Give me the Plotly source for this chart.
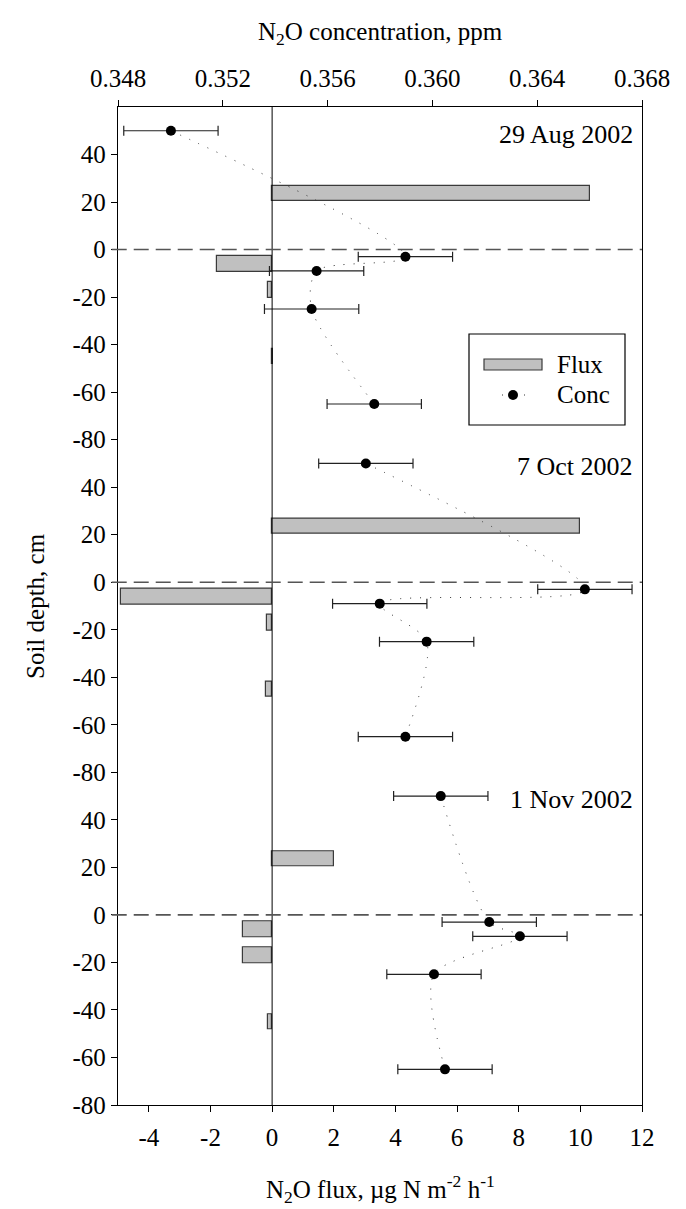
import plotly.graph_objects as go

# ---------------- data ----------------
panel_labels = ["29 Aug 2002", "7 Oct 2002", "1 Nov 2002"]

flux_depth = [23.5, -6, -17, -45]          # cm (bar centres)
flux_aug = [10.3, -1.8, -0.12, 0.03]       # ug N m-2 h-1
flux_oct = [10.0, -4.9, -0.15, -0.2]
flux_nov = [2.0, -0.93, -0.96, -0.12]

conc_depth = [50, -3, -9, -25, -65]        # cm
conc_aug = [0.35002, 0.35897, 0.35558, 0.35539, 0.35778]   # ppm
conc_oct = [0.35746, 0.36582, 0.35799, 0.35978, 0.35897]
conc_nov = [0.36032, 0.36217, 0.36334, 0.36006, 0.36048]
conc_err = [0.0018, 0.0018, 0.0018, 0.0018, 0.0018]

flux_ticks = [-4, -2, 0, 2, 4, 6, 8, 10, 12]
conc_ticks = [0.348, 0.352, 0.356, 0.360, 0.364, 0.368]
depth_ticks = [-80, -60, -40, -20, 0, 20, 40]

# ---------------- layout geometry ----------------
W, H = 686, 1209
L, R, T, B = 118, 44, 107, 104
PW, PH = W - L - R, H - T - B
FONT = "Liberation Serif, Times New Roman, serif"
FS = 25

def px_x(p):
    return (p - L) / PW

def px_y(p):
    return (H - B - p) / PH

def lab(v):
    return str(v) if v >= 0 else "-" + str(abs(v))

fig = go.Figure()

flux_sets = [flux_aug, flux_oct, flux_nov]
conc_sets = [conc_aug, conc_oct, conc_nov]
yaxes = ["y", "y2", "y3"]

for fx, cc, ya in zip(flux_sets, conc_sets, yaxes):
    fig.add_trace(go.Bar(
        x=fx, y=flux_depth, orientation="h", width=6.5,
        marker=dict(color="#c0c0c0", line=dict(color="#3a3a3a", width=1.2)),
        xaxis="x", yaxis=ya, showlegend=False, name="Flux"))
    fig.add_trace(go.Scatter(
        x=cc, y=conc_depth, mode="lines+markers",
        line=dict(color="#333333", width=1, dash="1px,9px", shape="spline", smoothing=0.8),
        marker=dict(color="black", size=10),
        error_x=dict(type="data", array=conc_err, visible=True,
                     color="#222222", thickness=1.2, width=5),
        xaxis="x2", yaxis=ya, showlegend=False, name="Conc"))

axis_font = dict(family=FONT, size=FS, color="black")

yax_common = dict(range=[-80, 60], tickvals=depth_ticks,
                  ticktext=[lab(v) for v in depth_ticks],
                  ticks="outside", ticklen=6,
                  tickcolor="black", showline=True, linecolor="black", linewidth=1.3,
                  mirror=True, showgrid=False, zeroline=False, anchor="x",
                  tickfont=axis_font, ticklabelstandoff=0)

fig.update_layout(
    width=W, height=H,
    margin=dict(l=L, r=R, t=T, b=B),
    paper_bgcolor="white", plot_bgcolor="white",
    font=dict(family=FONT, size=FS, color="black"),
    bargap=0,
    xaxis=dict(range=[-5, 12], domain=[0, 1], anchor="y3", side="bottom",
               tickvals=flux_ticks, ticktext=[lab(v) for v in flux_ticks],
               ticks="outside", ticklen=6, tickcolor="black",
               showline=True, linecolor="black", linewidth=1.3, showgrid=False,
               zeroline=False, tickfont=axis_font, ticklabelstandoff=4),
    xaxis2=dict(range=[0.348, 0.368], overlaying="x", anchor="y", side="top",
                tickvals=conc_ticks, ticktext=[f"{v:.3f}" for v in conc_ticks],
                ticks="outside", ticklen=6, tickcolor="black",
                showline=True, linecolor="black", linewidth=1.3, showgrid=False,
                zeroline=False, tickfont=axis_font, ticklabelstandoff=3),
    xaxis3=dict(range=[-5, 12], overlaying="x", anchor="y", side="bottom",
                tickvals=[-4, 0, 4, 8], ticks="inside", ticklen=6, tickcolor="black",
                showticklabels=False, showline=True, linecolor="black", linewidth=1.3,
                showgrid=False, zeroline=False),
    xaxis4=dict(range=[-5, 12], overlaying="x", anchor="y2", side="bottom",
                ticks="", showticklabels=False, showline=True, linecolor="black",
                linewidth=1.3, showgrid=False, zeroline=False),
    xaxis5=dict(range=[0.348, 0.368], overlaying="x", anchor="y3", side="top",
                tickvals=[0.350, 0.355, 0.360, 0.365], ticks="inside", ticklen=2,
                tickcolor="#666666", showticklabels=False, showline=False,
                showgrid=False, zeroline=False),
    yaxis=dict(domain=[2/3, 1], **yax_common),
    yaxis2=dict(domain=[1/3, 2/3], **yax_common),
    yaxis3=dict(domain=[0, 1/3], **yax_common),
)

shapes = []
# vertical zero-flux line through all panels
shapes.append(dict(type="line", xref="x", yref="paper", x0=0, x1=0, y0=0, y1=1,
                   line=dict(color="black", width=1)))
# dashed soil-surface lines
for ya in yaxes:
    shapes.append(dict(type="line", xref="paper", yref=ya, x0=-0.012, x1=1, y0=0, y1=0,
                       line=dict(color="#555555", width=1.6, dash="15px,7px")))

# custom legend (top panel)
shapes.append(dict(type="rect", xref="paper", yref="paper",
                   x0=px_x(469), x1=px_x(625), y0=px_y(334), y1=px_y(425),
                   line=dict(color="black", width=1.2), fillcolor="white", layer="above"))
shapes.append(dict(type="rect", xref="paper", yref="paper",
                   x0=px_x(484), x1=px_x(542), y0=px_y(359), y1=px_y(370),
                   line=dict(color="#3a3a3a", width=1.2), fillcolor="#c0c0c0", layer="above"))
shapes.append(dict(type="line", xref="paper", yref="paper",
                   x0=px_x(502), x1=px_x(526), y0=px_y(395), y1=px_y(395),
                   line=dict(color="#333333", width=1, dash="1px,10px"), layer="above"))
shapes.append(dict(type="circle", xref="paper", yref="paper",
                   x0=px_x(508), x1=px_x(518), y0=px_y(390), y1=px_y(400),
                   line=dict(color="black", width=0), fillcolor="black", layer="above"))
fig.update_layout(shapes=shapes)

ann = []
for txt, ya in zip(panel_labels, yaxes):
    ann.append(dict(text=txt, xref="paper", yref=ya, x=px_x(635), y=48.5,
                    xanchor="right", yanchor="middle", showarrow=False,
                    font=dict(family=FONT, size=FS + 1, color="black")))
ann.append(dict(text="Flux", xref="paper", yref="paper", x=px_x(555), y=px_y(364),
                xanchor="left", yanchor="middle", showarrow=False,
                font=dict(family=FONT, size=FS, color="black")))
ann.append(dict(text="Conc", xref="paper", yref="paper", x=px_x(555), y=px_y(395),
                xanchor="left", yanchor="middle", showarrow=False,
                font=dict(family=FONT, size=FS, color="black")))
ann.append(dict(text="N<sub>2</sub>O concentration, ppm", xref="paper", yref="paper",
                x=0.5, y=px_y(33), xanchor="center", yanchor="middle", showarrow=False,
                font=dict(family=FONT, size=FS, color="black")))
ann.append(dict(text="N<sub>2</sub>O flux, \u00b5g N m<sup>-2</sup> h<sup>-1</sup>",
                xref="paper", yref="paper", x=0.5, y=px_y(1189),
                xanchor="center", yanchor="middle", showarrow=False,
                font=dict(family=FONT, size=FS, color="black")))
ann.append(dict(text="Soil depth, cm", xref="paper", yref="paper", x=px_x(35), y=0.5,
                xanchor="center", yanchor="middle", textangle=-90, showarrow=False,
                font=dict(family=FONT, size=FS, color="black")))
fig.update_layout(annotations=ann)

fig.write_html("out.html")
